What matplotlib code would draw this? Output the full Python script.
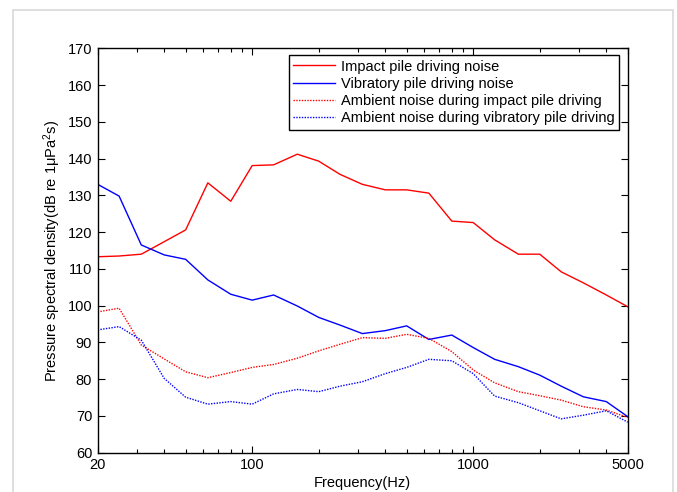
import numpy as np
import matplotlib.pyplot as plt
from matplotlib.ticker import FixedLocator, NullFormatter
from matplotlib.patches import Rectangle

plt.rcParams['font.family'] = ['Liberation Sans', 'DejaVu Sans']
plt.rcParams['mathtext.fontset'] = 'custom'
plt.rcParams['mathtext.rm'] = 'Liberation Sans'
plt.rcParams['mathtext.it'] = 'Liberation Sans'

# 1/3 octave band centre frequencies
freq = [20, 25, 31.5, 40, 50, 63, 80, 100, 125, 160, 200, 250, 315, 400,
        500, 630, 800, 1000, 1250, 1600, 2000, 2500, 3150, 4000, 5000]

impact = [113.3, 113.5, 114.0, 117.4, 120.6, 133.4, 128.4, 138.1, 138.3, 141.2,
          139.3, 135.7, 133.0, 131.5, 131.5, 130.6, 123.0, 122.6, 117.9, 114.0,
          114.0, 109.2, 106.2, 102.9, 99.7]
vibratory = [133.0, 129.8, 116.5, 113.8, 112.6, 107.0, 103.1, 101.5, 102.9, 99.9,
             96.8, 94.7, 92.4, 93.2, 94.5, 90.8, 92.0, 88.6, 85.4, 83.4,
             81.1, 78.1, 75.2, 73.9, 69.8]
amb_impact = [98.3, 99.3, 89.3, 85.5, 82.0, 80.4, 81.8, 83.2, 84.0, 85.7,
              87.7, 89.5, 91.3, 91.1, 92.2, 91.1, 87.5, 82.5, 79.0, 76.6,
              75.5, 74.3, 72.5, 71.6, 69.6]
amb_vibratory = [93.4, 94.3, 90.6, 80.2, 75.1, 73.2, 73.9, 73.2, 76.0, 77.2,
                 76.6, 78.1, 79.3, 81.5, 83.2, 85.4, 85.0, 81.5, 75.4, 73.6,
                 71.4, 69.2, 70.2, 71.4, 68.3]

labels = ['Impact pile driving noise', 'Vibratory pile driving noise',
          'Ambient noise during impact pile driving',
          'Ambient noise during vibratory pile driving']

fig = plt.figure(figsize=(6.77, 4.92), dpi=100)
# light gray frame around the figure
fig.patches.append(Rectangle((12.5 / 677, -0.1), 660.5 / 677, 1.1 - 10 / 492,
                             transform=fig.transFigure, fill=False,
                             edgecolor='#d9d9d9', linewidth=1.2))
ax = fig.add_axes([0.1443, 0.0799, 0.7829, 0.8219])

dot = (0, (1, 1))
ax.plot(freq, impact, '-', color='red', lw=1.0, label=labels[0])
ax.plot(freq, vibratory, '-', color='blue', lw=1.0, label=labels[1])
ax.plot(freq, amb_impact, linestyle=dot, color='red', lw=1.0, label=labels[2])
ax.plot(freq, amb_vibratory, linestyle=dot, color='blue', lw=1.0, label=labels[3])

ax.set_xscale('log')
ax.set_xlim(20, 5000)
ax.set_ylim(60, 170)
ax.set_xticks([20, 100, 1000, 5000])
ax.set_xticklabels(['20', '100', '1000', '5000'])
minors = [30, 40, 50, 60, 70, 80, 90, 200, 300, 400, 500, 600, 700, 800, 900,
          2000, 3000, 4000]
ax.xaxis.set_minor_locator(FixedLocator(minors))
ax.xaxis.set_minor_formatter(NullFormatter())
ax.set_yticks(np.arange(60, 171, 10))

ax.tick_params(which='both', direction='in', top=True, right=True,
               labelsize=10.5, width=0.8)
ax.tick_params(which='major', length=5, pad=4)
ax.tick_params(which='minor', length=3)
for s in ax.spines.values():
    s.set_linewidth(1.0)

ax.set_xlabel('Frequency(Hz)', fontsize=10.5, labelpad=3)
ax.set_ylabel('Pressure spectral density(dB re 1μPa$^2$s)', fontsize=10.5,
              labelpad=3)

leg = ax.legend(loc='upper right', fontsize=10.5, handlelength=2.9,
                handletextpad=0.4, labelspacing=0.22, borderpad=0.3,
                borderaxespad=0, fancybox=False, framealpha=1,
                edgecolor='black', bbox_to_anchor=(0.984, 0.983))
leg.get_frame().set_linewidth(1.0)

fig.savefig('out.png', dpi=100)
